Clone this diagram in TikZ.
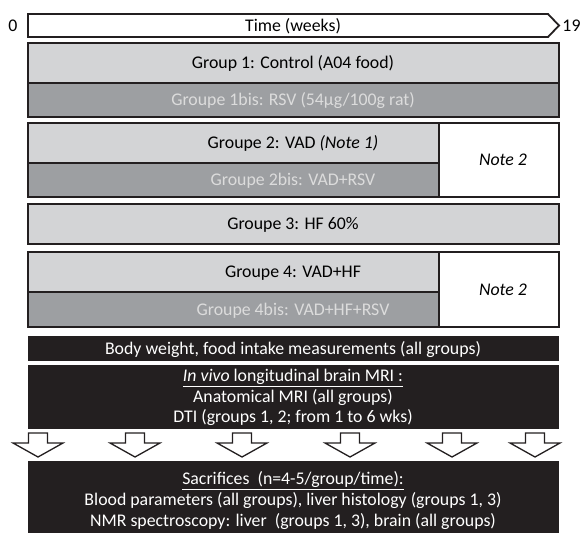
\documentclass[tikz,border=0pt]{standalone}
\usepackage{fontspec}
\setmainfont{Carlito}
\definecolor{barlight}{HTML}{D3D4D6}
\definecolor{bardark}{HTML}{9D9FA2}
\definecolor{barblack}{HTML}{231F20}
\definecolor{textpale}{HTML}{DCDCDC}
\begin{document}
\begin{tikzpicture}[x=1pt,y=-1pt,
  edge/.style={draw=barblack,line width=1.8pt,line join=miter},
  lightbar/.style={edge,fill=barlight},
  darkbar/.style={edge,fill=bardark},
  notebar/.style={edge,fill=white},
  blackbar/.style={fill=barblack},
  txt/.style={font=\fontsize{17.8}{21}\selectfont,inner sep=0pt,
    text height=11.5pt,text depth=0pt,text=black},
  paletxt/.style={txt,text=textpale},
  whitetxt/.style={txt,text=white},
  hollow/.style={draw=barblack,line width=1.3pt,fill=white,line join=miter}]
\useasboundingbox (0,0) rectangle (580,532);
\draw[edge,fill=white] (28,14) -- (548,14) -- (559,25.5) -- (548,37) -- (28,37) -- cycle;
\node[txt] (zero) at (13,25.5) {0};
\node[txt] (nineteen) at (571.5,25.5) {19};
\node[txt] (time) at (293,25.5) {Time (weeks)};
\draw[lightbar] (28,43) rectangle (559,83);
\draw[darkbar] (28,83) rectangle (559,117);
\node[txt] (g1) at (293,63) {Group 1: Control (A04 food)};
\node[paletxt] (g1b) at (293,100) {Groupe 1bis: RSV (54µg/100g rat)};
\draw[lightbar] (28,123) rectangle (439,163);
\draw[darkbar] (28,163) rectangle (439,197);
\draw[notebar] (439,123) rectangle (559,197);
\node[txt] (g2) at (293,143) {Groupe 2: VAD \textit{(Note 1)}};
\node[paletxt] (g2b) at (293,180) {Groupe 2bis: VAD+RSV};
\node[txt] (n2a) at (503,160) {\textit{Note 2}};
\draw[lightbar] (28,204) rectangle (559,244);
\node[txt] (g3) at (293,224) {Groupe 3: HF 60\%};
\draw[lightbar] (28,252) rectangle (439,292);
\draw[darkbar] (28,292) rectangle (439,327);
\draw[notebar] (439,252) rectangle (559,327);
\node[txt] (g4) at (293,272) {Groupe 4: VAD+HF};
\node[paletxt] (g4b) at (293,309.5) {Groupe 4bis: VAD+HF+RSV};
\node[txt] (n2b) at (503,289.5) {\textit{Note 2}};
\fill[blackbar] (28,336) rectangle (559,361);
\node[whitetxt] (body) at (293,349) {Body weight, food intake measurements (all groups)};
\fill[blackbar] (28,365) rectangle (559,429);
\node[whitetxt] (mri) at (293,376) {\underline{\textit{In vivo} longitudinal brain MRI :}};
\node[whitetxt] (anat) at (293,397) {Anatomical MRI (all groups)};
\node[whitetxt] (dti) at (293,417) {DTI (groups 1, 2; from 1 to 6 wks)};
\foreach \cx in {38,135,242,350,452,535}
  \draw[hollow] (\cx-9.5,433) -- (\cx+9.5,433) -- (\cx+9.5,443) -- (\cx+25,443)
    -- (\cx,457) -- (\cx-25,443) -- (\cx-9.5,443) -- cycle;
\fill[blackbar] (28,461) rectangle (559,534);
\node[whitetxt] (sacr) at (293,479) {\underline{Sacrifices\ \ (n=4-5/group/time):}};
\node[whitetxt] (blood) at (293,500) {Blood parameters (all groups), liver histology (groups 1, 3)};
\node[whitetxt] (nmr) at (293,521) {NMR spectroscopy: liver\ \ (groups 1, 3), brain (all groups)};
\end{tikzpicture}
\end{document}
